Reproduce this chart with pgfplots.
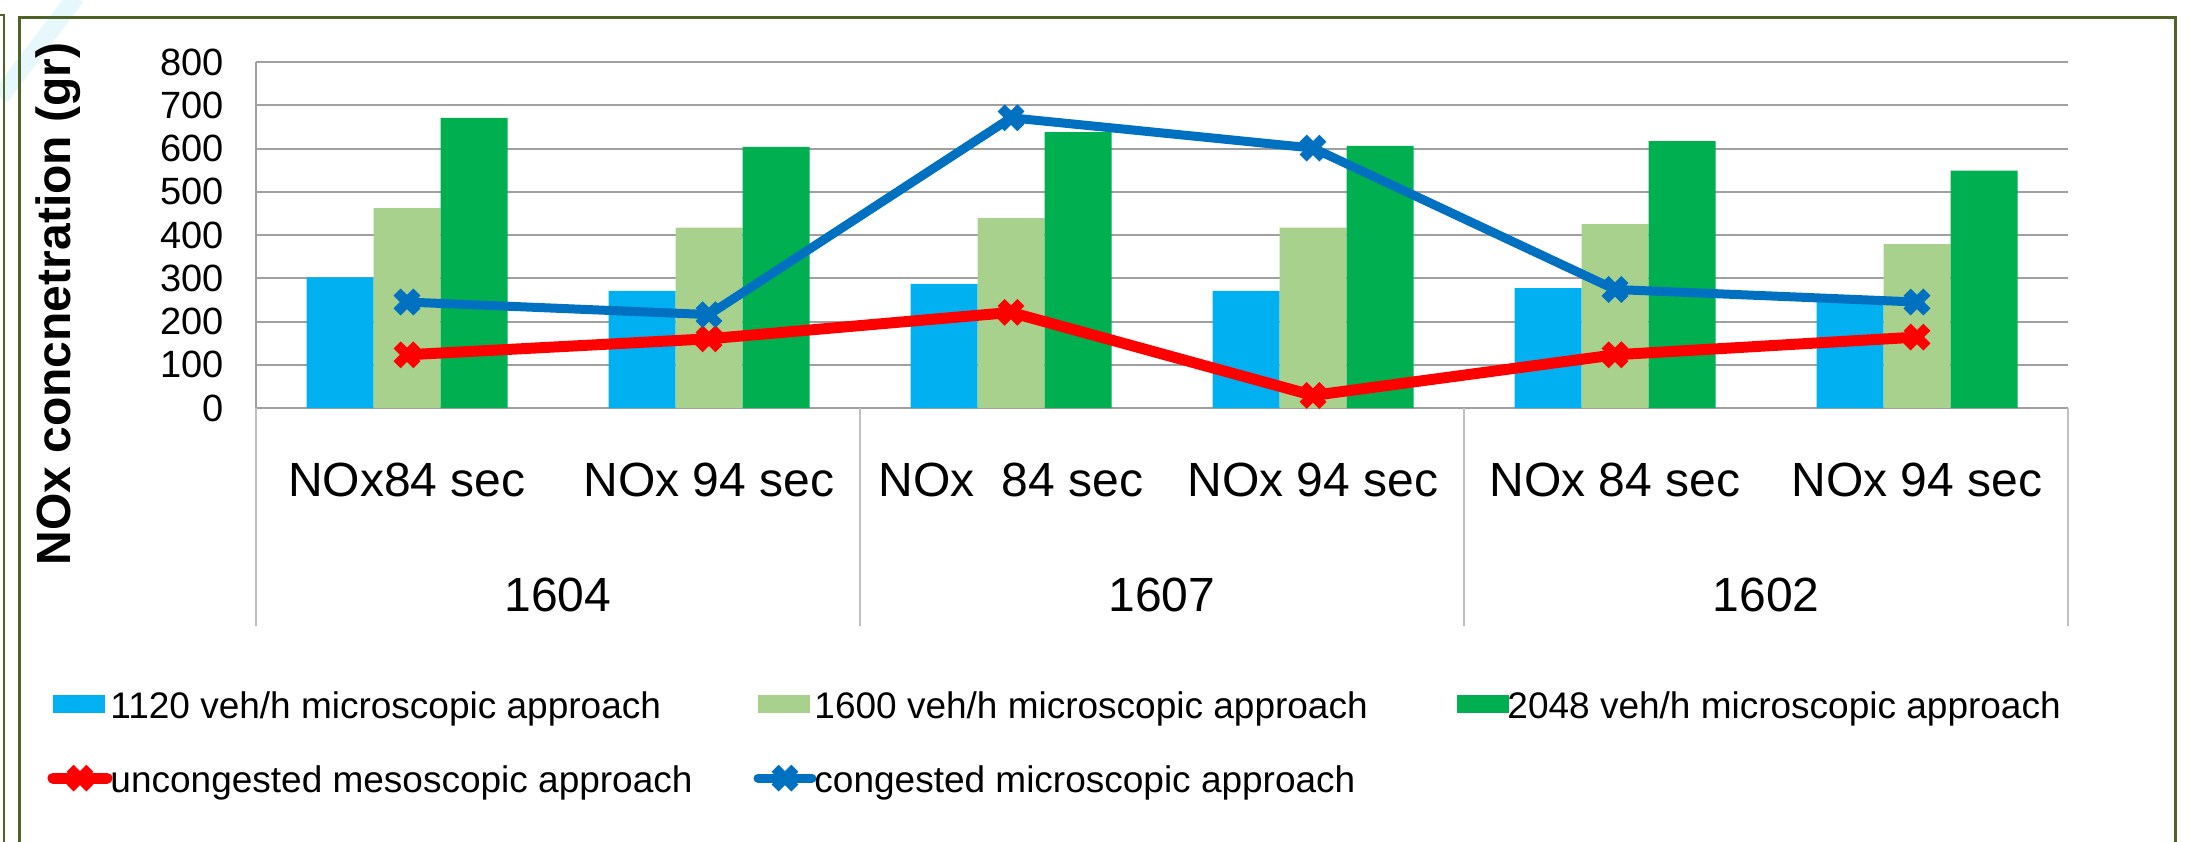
\documentclass[border=0pt]{standalone}
\usepackage{pgfplots}
\pgfplotsset{compat=1.18}
\usepackage{fontspec}
\setmainfont{Liberation Sans}
\definecolor{cBlue}{HTML}{00B0F0}
\definecolor{cLgreen}{HTML}{A9D18E}
\definecolor{cGreen}{HTML}{00B050}
\definecolor{cRed}{HTML}{FF0000}
\definecolor{cLine}{HTML}{0070C0}
\definecolor{gridgray}{HTML}{A0A0A0}
\definecolor{sepgray}{HTML}{C0C0C0}
\definecolor{frame}{HTML}{4F6228}
\definecolor{swoosh}{HTML}{E6F8FC}
\pgfplotsset{
  linelegend/.style={legend image code/.code={\draw[##1, mark repeat=2, mark phase=2] plot coordinates {(0pt,0pt) (13.5pt,0pt) (27pt,0pt)};}},
  barlegend/.style={legend image code/.code={\fill[#1] (0pt,-4.5pt) rectangle (26pt,4.5pt);}},
}
\begin{document}
\begin{tikzpicture}
\useasboundingbox (0,0) rectangle (1097pt,420.5pt);
\begin{scope}
\clip (0,0) rectangle (1097pt,420.5pt);
\draw[swoosh, line width=9pt] (0pt,372pt) -- (38pt,422pt);
\draw[frame, line width=1.5pt] (9.65pt,-5pt) -- (9.65pt,411.85pt) -- (1087.65pt,411.85pt) -- (1087.65pt,-5pt);
\draw[frame, line width=1pt] (-2pt,413pt) -- (1.85pt,413pt) -- (1.85pt,-5pt);
\end{scope}
\begin{axis}[
  at={(128pt,216.5pt)}, anchor=south west,
  width=906pt, height=173pt, scale only axis,
  xmin=-0.5, xmax=5.5, ymin=0, ymax=800,
  ytick={0,100,...,800},
  xtick={0,1,2,3,4,5},
  xticklabels={NOx84 sec, NOx 94 sec, NOx\ \ 84 sec, NOx 94 sec, NOx 84 sec, NOx 94 sec},
  ymajorgrids, grid style={gridgray, line width=1pt},
  axis x line*=bottom, axis y line*=left,
  x axis line style={gridgray, line width=1.2pt},
  y axis line style={gridgray, line width=1pt},
  major tick length=0pt,
  /pgf/number format/assume math mode=true,
  yticklabel style={font=\fontsize{19}{22}\selectfont, anchor=east, inner sep=0pt, xshift=-16pt},
  xticklabel style={font=\fontsize{24}{28}\selectfont, anchor=center, inner sep=0pt, yshift=-36pt},
  ylabel={NOx concnetration (gr)},
  ylabel style={font=\fontsize{24}{28}\selectfont\bfseries, at={(axis description cs:-0.1090,0.3006)}, anchor=center, rotate=0},
  clip=false,
  legend columns=3,
  legend style={draw=none, fill=none, at={(axis description cs:-0.1153,-0.8064)}, anchor=north west,
    font=\fontsize{18.5}{22}\selectfont, inner sep=0pt, column sep=0pt, row sep=20pt,
    nodes={inner sep=0pt}},
  legend cell align=left,
]
\addplot[ybar, bar width=33.5pt, bar shift=-33.5pt, fill=cBlue, draw=none, barlegend=cBlue]
  coordinates {(0,302) (1,271) (2,287) (3,271) (4,277) (5,246)};
\addlegendentry{\makebox[320.5pt][l]{\hspace{-1pt}\strut 1120 veh/h microscopic approach}}
\addplot[ybar, bar width=33.5pt, bar shift=0pt, fill=cLgreen, draw=none, barlegend=cLgreen]
  coordinates {(0,462) (1,417) (2,439) (3,417) (4,425) (5,379)};
\addlegendentry{\makebox[320.5pt][l]{\hspace{-1pt}\strut 1600 veh/h microscopic approach}}
\addplot[ybar, bar width=33.5pt, bar shift=33.5pt, fill=cGreen, draw=none, barlegend=cGreen]
  coordinates {(0,671) (1,604) (2,638) (3,606) (4,617) (5,549)};
\addlegendentry{\makebox[320.5pt][l]{\hspace{-1pt}\strut 2048 veh/h microscopic approach}}
\addplot[sharp plot, cRed, line width=5.5pt, line cap=round, line join=round, mark=x, mark size=7pt,
  mark options={line width=5pt, solid, line cap=butt}, linelegend]
  coordinates {(0,123) (1,160) (2,221) (3,29) (4,123) (5,164)};
\addlegendentry{\makebox[320.5pt][l]{\hspace{-1pt}\strut uncongested mesoscopic approach}}
\addplot[sharp plot, cLine, line width=4.5pt, line cap=round, line join=round, mark=x, mark size=7pt,
  mark options={line width=5pt, solid, line cap=butt}, linelegend]
  coordinates {(0,245) (1,216) (2,671) (3,601) (4,274) (5,245)};
\addlegendentry{\makebox[320.5pt][l]{\hspace{-1pt}\strut congested microscopic approach}}
\draw[sepgray, line width=0.75pt] (axis cs:-0.5,0) -- ++(0pt,-109pt);
\draw[sepgray, line width=0.75pt] (axis cs:1.5,0) -- ++(0pt,-109pt);
\draw[sepgray, line width=0.75pt] (axis cs:3.5,0) -- ++(0pt,-109pt);
\draw[sepgray, line width=0.75pt] (axis cs:5.5,0) -- ++(0pt,-109pt);
\node[font=\fontsize{24}{28}\selectfont, anchor=center, inner sep=0pt] at ([yshift=-93.5pt]axis cs:0.5,0) {1604};
\node[font=\fontsize{24}{28}\selectfont, anchor=center, inner sep=0pt] at ([yshift=-93.5pt]axis cs:2.5,0) {1607};
\node[font=\fontsize{24}{28}\selectfont, anchor=center, inner sep=0pt] at ([yshift=-93.5pt]axis cs:4.5,0) {1602};
\end{axis}
\end{tikzpicture}
\end{document}
